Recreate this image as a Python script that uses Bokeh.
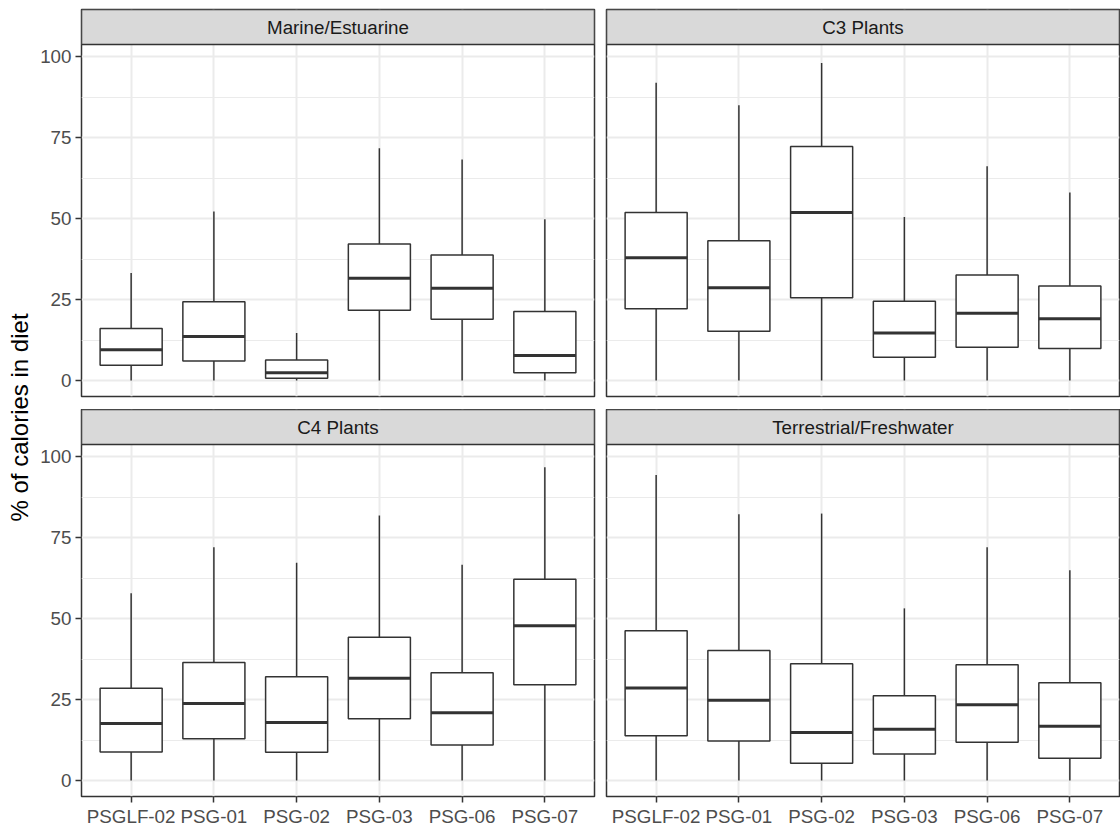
import math
from bokeh.plotting import figure
from bokeh.models import (Range1d, FixedTicker, BoxAnnotation, Label, ColumnDataSource,
                          LinearAxis, Grid)
from bokeh.layouts import row, column
from bokeh.transform import dodge
from bokeh.embed import file_html
from bokeh.resources import INLINE

# ---------------- data ----------------
categories = ["PSGLF-02", "PSG-01", "PSG-02", "PSG-03", "PSG-06", "PSG-07"]
panel_titles = ["Marine/Estuarine", "C3 Plants", "C4 Plants", "Terrestrial/Freshwater"]
y_ticks = [0, 25, 50, 75, 100]
y_minor = [12.5, 37.5, 62.5, 87.5]

marine_lower = [0, 0, 0, 0, 0, 0]
marine_q1 = [4.7, 6.0, 0.7, 21.7, 18.9, 2.4]
marine_med = [9.5, 13.6, 2.4, 31.6, 28.5, 7.7]
marine_q3 = [16.1, 24.3, 6.3, 42.2, 38.8, 21.3]
marine_upper = [33.2, 52.2, 14.7, 71.8, 68.3, 49.8]

c3_lower = [0, 0, 0, 0, 0, 0]
c3_q1 = [22.2, 15.2, 25.6, 7.2, 10.3, 9.9]
c3_med = [37.9, 28.7, 51.9, 14.7, 20.8, 19.1]
c3_q3 = [51.9, 43.2, 72.3, 24.5, 32.6, 29.2]
c3_upper = [92.0, 85.1, 98.1, 50.5, 66.2, 58.1]

c4_lower = [0, 0, 0, 0, 0, 0]
c4_q1 = [8.8, 12.9, 8.7, 19.1, 11.0, 29.6]
c4_med = [17.6, 23.8, 17.9, 31.6, 20.9, 47.8]
c4_q3 = [28.5, 36.5, 32.1, 44.3, 33.3, 62.2]
c4_upper = [57.9, 72.1, 67.3, 81.9, 66.7, 96.8]

terr_lower = [0, 0, 0, 0, 0, 0]
terr_q1 = [13.8, 12.2, 5.3, 8.2, 11.8, 6.9]
terr_med = [28.6, 24.8, 14.8, 15.8, 23.4, 16.8]
terr_q3 = [46.3, 40.2, 36.1, 26.2, 35.8, 30.2]
terr_upper = [94.4, 82.3, 82.5, 53.2, 72.1, 65.0]

# ---------------- styling / layout ----------------
FONT = "Liberation Sans"
TICK_SIZE = "18.8px"
FRAME_W = 513
FRAME_H = 387
STRIP_PX = 35
Y_LO, Y_HI_PANEL = -4.95, 103.85
units_per_px = (Y_HI_PANEL - Y_LO) / (FRAME_H - STRIP_PX)
Y_TOP = Y_HI_PANEL + STRIP_PX * units_per_px
DARK = "#333333"
GRID = "#EBEBEB"

TOP_BORDER_TOP, TOP_BORDER_BOTTOM = 9, 13
BOT_BORDER_TOP, BOT_BORDER_BOTTOM = 0, 31

positions = list(range(1, len(categories) + 1))


def make_panel(title, lower, q1, med, q3, upper, show_y, show_x, left_col):
    p = figure(frame_width=FRAME_W, frame_height=FRAME_H,
               x_range=Range1d(0.4, len(categories) + 0.6),
               y_range=Range1d(Y_LO, Y_TOP),
               x_axis_location=None, y_axis_location=None,
               output_backend="svg", toolbar_location=None,
               min_border_left=46 if left_col else 6,
               min_border_right=6 if left_col else 1,
               min_border_top=BOT_BORDER_TOP if show_x else TOP_BORDER_TOP,
               min_border_bottom=BOT_BORDER_BOTTOM if show_x else TOP_BORDER_BOTTOM)
    p.center = []
    p.background_fill_color = "white"
    p.border_fill_color = "white"
    p.outline_line_color = DARK
    p.outline_line_width = 1.5
    p.outline_line_alpha = 1.0

    ygrid = Grid(dimension=1, ticker=FixedTicker(ticks=y_ticks, minor_ticks=y_minor),
                 grid_line_color=GRID, grid_line_width=2,
                 minor_grid_line_color=GRID, minor_grid_line_width=1)
    xgrid = Grid(dimension=0, ticker=FixedTicker(ticks=positions),
                 grid_line_color=GRID, grid_line_width=2)
    p.add_layout(ygrid, "center")
    p.add_layout(xgrid, "center")

    if show_y:
        ax = LinearAxis(ticker=FixedTicker(ticks=y_ticks, minor_ticks=[]))
        ax.axis_line_color = None
        ax.major_tick_line_color = DARK
        ax.major_tick_line_width = 1.5
        ax.major_tick_out = 6
        ax.major_tick_in = 0
        ax.minor_tick_line_color = None
        ax.major_label_text_font = FONT
        ax.major_label_text_font_size = TICK_SIZE
        ax.major_label_text_color = "#4D4D4D"
        ax.major_label_standoff = 4
        p.add_layout(ax, "left")
    if show_x:
        ax = LinearAxis(ticker=FixedTicker(ticks=positions, minor_ticks=[]),
                        major_label_overrides={pos: c for pos, c in zip(positions, categories)})
        ax.axis_line_color = None
        ax.major_tick_line_color = DARK
        ax.major_tick_line_width = 1.5
        ax.major_tick_out = 6
        ax.major_tick_in = 0
        ax.minor_tick_line_color = None
        ax.major_label_text_font = FONT
        ax.major_label_text_font_size = TICK_SIZE
        ax.major_label_text_color = "#4D4D4D"
        ax.major_label_standoff = 3
        p.add_layout(ax, "below")

    src = ColumnDataSource(dict(x=positions, lower=lower, q1=q1, med=med, q3=q3, upper=upper))
    p.segment(x0="x", y0="q3", x1="x", y1="upper", source=src, line_color=DARK, line_width=1.5)
    p.segment(x0="x", y0="lower", x1="x", y1="q1", source=src, line_color=DARK, line_width=1.5)
    p.vbar(x="x", width=0.75, top="q3", bottom="q1", source=src,
           fill_color="white", line_color=DARK, line_width=1.5)
    p.segment(x0=dodge("x", -0.375), y0="med", x1=dodge("x", 0.375), y1="med", source=src,
              line_color=DARK, line_width=3)

    strip = BoxAnnotation(bottom=Y_HI_PANEL, fill_color="#D9D9D9", fill_alpha=1.0,
                          line_color=DARK, line_alpha=1.0, line_width=1.5)
    p.add_layout(strip)
    p.add_layout(Label(x=(positions[0] + positions[-1]) / 2, y=(Y_HI_PANEL + Y_TOP) / 2,
                       text=title, text_align="center", text_baseline="middle",
                       text_font=FONT, text_font_size=TICK_SIZE, text_color="#1A1A1A"))
    return p


p1 = make_panel(panel_titles[0], marine_lower, marine_q1, marine_med, marine_q3, marine_upper,
                True, False, True)
p2 = make_panel(panel_titles[1], c3_lower, c3_q1, c3_med, c3_q3, c3_upper,
                False, False, False)
p3 = make_panel(panel_titles[2], c4_lower, c4_q1, c4_med, c4_q3, c4_upper,
                True, True, True)
p4 = make_panel(panel_titles[3], terr_lower, terr_q1, terr_med, terr_q3, terr_upper,
                False, True, False)

TOTAL_H = (TOP_BORDER_TOP + FRAME_H + TOP_BORDER_BOTTOM) + (BOT_BORDER_TOP + FRAME_H + BOT_BORDER_BOTTOM)
LAB_W = 35
lab = figure(frame_width=LAB_W, frame_height=TOTAL_H, min_border=0,
             x_range=Range1d(0, LAB_W), y_range=Range1d(0, TOTAL_H),
             x_axis_location=None, y_axis_location=None,
             output_backend="svg", toolbar_location=None)
lab.center = []
lab.outline_line_color = None
lab.background_fill_color = "white"
lab.border_fill_color = "white"
lab.add_layout(Label(x=19, y=TOTAL_H - 417, text="% of calories in diet", angle=math.pi / 2,
                     text_align="center", text_baseline="middle",
                     text_font=FONT, text_font_size="24px", text_color="black"))

layout = row(lab, column(row(p1, p2), row(p3, p4)))

open("out.html", "w").write(file_html(layout, INLINE))
